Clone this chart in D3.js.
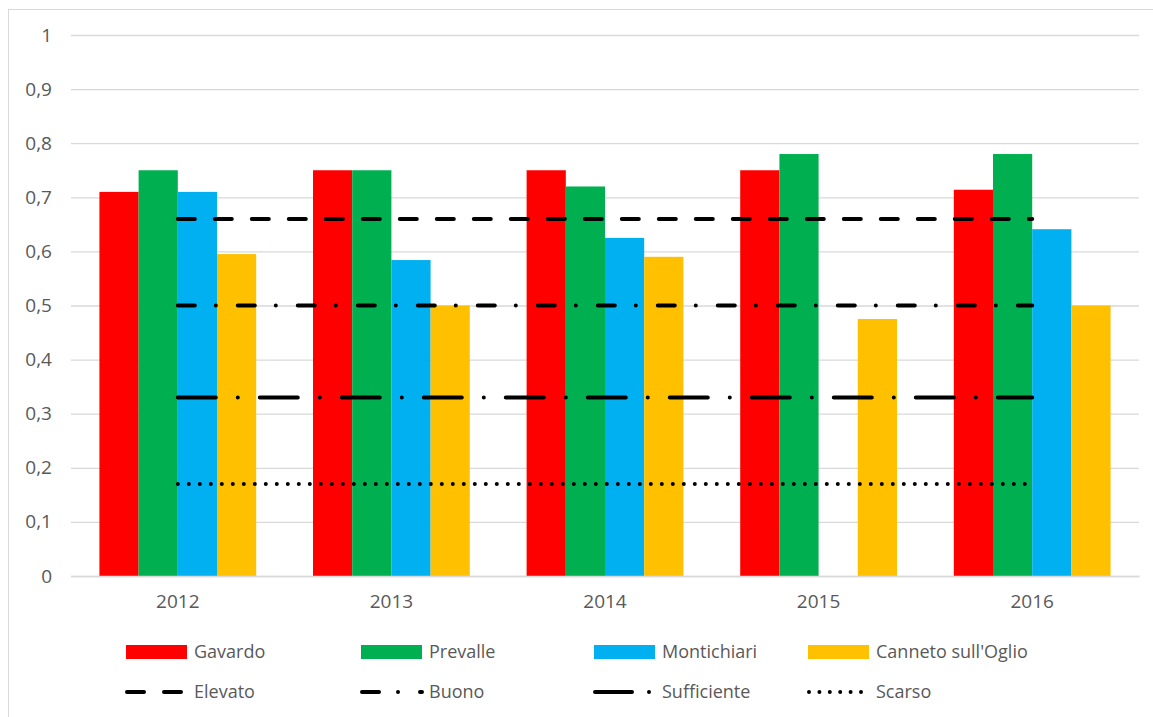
<!DOCTYPE html>
<html>
<head>
<meta charset="utf-8">
<script src="https://cdn.jsdelivr.net/npm/d3@7"></script>
<style>
	body { margin: 0; background: #fff; }
	svg text { font-family: "Open Sans", "Noto Sans", sans-serif; fill: #595959; }
</style>
</head>
<body>
<div id="chart"></div>
<script>
// categories and series
const years = ['2012', '2013', '2014', '2015', '2016'];
const stations = ['Gavardo', 'Prevalle', 'Montichiari', "Canneto sull'Oglio"];
const stationColors = ['#ff0000', '#00b050', '#00b0f0', '#ffc000'];

const gavardo = [0.71, 0.75, 0.75, 0.75, 0.714];
const prevalle = [0.75, 0.75, 0.72, 0.78, 0.78];
const montichiari = [0.71, 0.584, 0.625, null, 0.641];
const canneto = [0.595, 0.50, 0.59, 0.475, 0.50];
const stationValues = [gavardo, prevalle, montichiari, canneto];

// quality class thresholds (drawn as lines across the years)
const classes = ['Elevato', 'Buono', 'Sufficiente', 'Scarso'];
const elevato = [0.66, 0.66, 0.66, 0.66, 0.66];
const buono = [0.5, 0.5, 0.5, 0.5, 0.5];
const sufficiente = [0.33, 0.33, 0.33, 0.33, 0.33];
const scarso = [0.17, 0.17, 0.17, 0.17, 0.17];
const classValues = [elevato, buono, sufficiente, scarso];
const classDashes = ['17,20', '17,21,0,22', '38,22,0,22', '0,11'];
const legendDashes = ['17,20', '17,19,0,22', '37,17,0,20', '0,10.4'];

const yTicks = [0, 0.1, 0.2, 0.3, 0.4, 0.5, 0.6, 0.7, 0.8, 0.9, 1];

const width = 1153, height = 717;
const plot = {left: 71, right: 1139, top: 35, bottom: 576};

const svg = d3.select('#chart').append('svg')
	.attr('width', width)
	.attr('height', height);

//outer chart border
svg.append('rect')
	.attr('x', 8.5).attr('y', 9.5)
	.attr('width', 1160).attr('height', 730)
	.attr('fill', 'none')
	.attr('stroke', '#d9d9d9');

const x0 = d3.scaleBand()
	.domain(years)
	.range([plot.left, plot.right])
	.padding(0);

const x1 = d3.scaleBand()
	.domain(stations)
	.range([0, x0.bandwidth()])
	.paddingInner(0)
	.paddingOuter(0.725);

const y = d3.scaleLinear()
	.domain([0, 1])
	.range([plot.bottom, plot.top]);

//gridlines + y labels
const yAxis = d3.axisLeft(y)
	.tickValues(yTicks)
	.tickSize(-(plot.right - plot.left))
	.tickPadding(19)
	.tickFormat(d => d3.format('.1~f')(d).replace('.', ','));

const gy = svg.append('g')
	.attr('transform', `translate(${plot.left},0)`)
	.call(yAxis);
gy.select('.domain').remove();
gy.selectAll('.tick line').attr('stroke', '#d9d9d9').attr('stroke-width', 1.3);
gy.selectAll('.tick text').style('font-size', '19px');

//bars
const rows = years.map((yr, i) => ({year: yr, vals: stations.map((s, j) => ({station: s, v: stationValues[j][i], c: stationColors[j]}))}));

const groups = svg.selectAll('.yearGroup')
	.data(rows)
	.join('g')
	.attr('class', 'yearGroup')
	.attr('transform', d => `translate(${x0(d.year)},0)`);

groups.selectAll('rect')
	.data(d => d.vals.filter(v => v.v !== null))
	.join('rect')
	.attr('x', d => x1(d.station))
	.attr('y', d => y(d.v))
	.attr('width', x1.bandwidth())
	.attr('height', d => y(0) - y(d.v))
	.attr('fill', d => d.c);

//x labels
const xAxis = d3.axisBottom(x0).tickSize(0).tickPadding(19);
const gx = svg.append('g')
	.attr('transform', `translate(0,${plot.bottom})`)
	.call(xAxis);
gx.select('.domain').attr('stroke', '#d9d9d9').attr('stroke-width', 1.3);
gx.selectAll('.tick text').style('font-size', '19px');

//threshold lines
const line = d3.line()
	.x((d, i) => x0(years[i]) + x0.bandwidth() / 2)
	.y(d => y(d));

svg.selectAll('.classLine')
	.data(classValues)
	.join('path')
	.attr('class', 'classLine')
	.attr('d', d => line(d))
	.attr('fill', 'none')
	.attr('stroke', '#000')
	.attr('stroke-width', 4)
	.attr('stroke-linecap', 'round')
	.attr('stroke-dasharray', (d, i) => classDashes[i]);

//legend
const legX = [126, 361, 594, 808];
const legend1 = svg.append('g').attr('class', 'legend');
stations.forEach((s, i) => {
	legend1.append('rect')
		.attr('x', legX[i]).attr('y', 645)
		.attr('width', 61).attr('height', 14)
		.attr('fill', stationColors[i]);
	legend1.append('text')
		.attr('x', legX[i] + 68).attr('y', 652)
		.attr('dy', '0.35em')
		.style('font-size', '18px')
		.text(s);
});
classes.forEach((c, i) => {
	legend1.append('line')
		.attr('x1', legX[i] + 1).attr('x2', legX[i] + 61)
		.attr('y1', 692).attr('y2', 692)
		.attr('stroke', '#000')
		.attr('stroke-width', 4)
		.attr('stroke-linecap', 'round')
		.attr('stroke-dasharray', legendDashes[i]);
	legend1.append('text')
		.attr('x', legX[i] + 68).attr('y', 692)
		.attr('dy', '0.35em')
		.style('font-size', '18px')
		.text(c);
});
</script>
</body>
</html>
